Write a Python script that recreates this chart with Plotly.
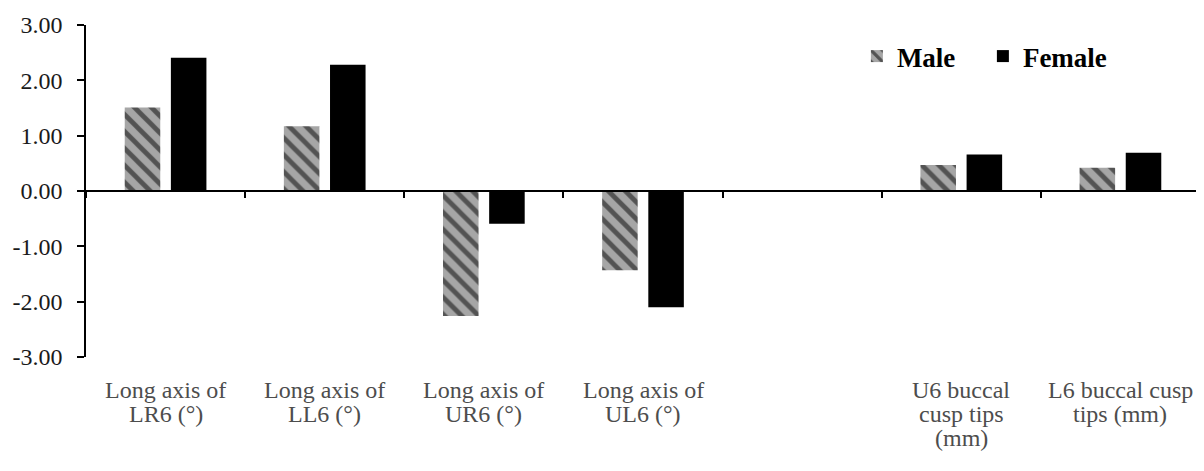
import plotly.graph_objects as go

categories = ["LR6", "LL6", "UR6", "UL6", "blank", "U6", "L6"]
label_lines = [
    ["Long axis of", "LR6 (°)"],
    ["Long axis of", "LL6 (°)"],
    ["Long axis of", "UR6 (°)"],
    ["Long axis of", "UL6 (°)"],
    [],
    ["U6 buccal", "cusp tips", "(mm)"],
    ["L6 buccal cusp", "tips (mm)"],
]
male = [1.51, 1.17, -2.26, -1.43, None, 0.47, 0.42]
female = [2.41, 2.28, -0.59, -2.10, None, 0.66, 0.69]
ytick_vals = [3, 2, 1, 0, -1, -2, -3]
ytick_text = ["3.00", "2.00", "1.00", "0.00", "-1.00", "-2.00", "-3.00"]

FONT = "Liberation Serif"

fig = go.Figure()
fig.add_trace(go.Bar(
    x=categories, y=male, name="Male",
    marker=dict(color="#a6a6a6", line=dict(width=0),
                pattern=dict(shape="\\", bgcolor="#a6a6a6", fgcolor="black", size=12, solidity=0.4)),
))
fig.add_trace(go.Bar(
    x=categories, y=female, name="Female",
    marker=dict(color="black", line=dict(width=0)),
))

for c, lines in zip(categories, label_lines):
    for i, line in enumerate(lines):
        fig.add_annotation(x=c, xref="x", y=0, yref="paper", yanchor="middle",
                           yshift=-33 - 24 * i, text=line, showarrow=False,
                           font=dict(family=FONT, size=24, color="#4d4d4d"))

fig.update_layout(
    width=1196, height=463,
    margin=dict(l=78, r=4, t=15, b=114),
    paper_bgcolor="white", plot_bgcolor="white",
    barmode="group", bargap=0.42, bargroupgap=0.23,
    font=dict(family=FONT, color="black"),
    legend=dict(orientation="h", x=0.692, xanchor="left", y=0.905, yanchor="middle",
                font=dict(family=FONT, size=27, color="black", weight="bold"),
                bgcolor="rgba(0,0,0,0)", itemwidth=30, traceorder="normal",
                entrywidth=81, entrywidthmode="pixels"),
    xaxis=dict(type="category", categoryarray=categories, categoryorder="array",
               range=[-0.5, 6.5], anchor="free", position=0.5,
               showline=True, linecolor="black", linewidth=1.5,
               ticks="outside", tickson="boundaries", ticklen=6, tickcolor="black", tickwidth=1.5,
               showticklabels=False, showgrid=False, zeroline=False),
    yaxis=dict(range=[-3, 3], domain=[0, 1], tickmode="array", tickvals=ytick_vals,
               ticktext=ytick_text, showline=True, linecolor="black", linewidth=1.5,
               ticks="outside", ticklen=7, tickcolor="black", tickwidth=1.5,
               showgrid=False, zeroline=False, ticklabelstandoff=10,
               tickfont=dict(family=FONT, size=24, color="#1a1a1a")),
)

fig.write_html("out.html")
